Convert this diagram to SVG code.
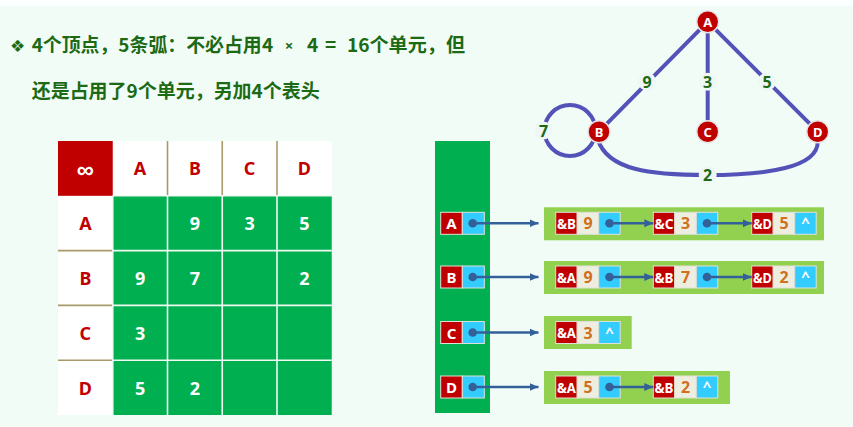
<svg xmlns="http://www.w3.org/2000/svg" width="853" height="427" viewBox="0 0 853 427">
<defs>
<marker id="arr" markerWidth="10" markerHeight="10" refX="9" refY="5" orient="auto" markerUnits="userSpaceOnUse">
<path d="M0,1 L9,5 L0,9 Z" fill="#34609a"/>
</marker>
<style>
.title{font-family:"Noto Sans CJK SC","Noto Sans",sans-serif;font-weight:bold;font-size:19px;fill:#1c6a14}
.mid{text-anchor:middle}
.hdr{font-family:"Noto Sans","Liberation Sans",sans-serif;font-weight:bold;font-size:18px;fill:#c00000;text-anchor:middle;dominant-baseline:central}
.num{font-family:"Noto Sans","Liberation Sans",sans-serif;font-weight:bold;font-size:18px;fill:#ffffff;text-anchor:middle;dominant-baseline:central}
.grid{stroke:#f2f8f2;stroke-width:1.6}
.tan{stroke:#a89a6a;stroke-width:1.6}
.edge{stroke:#5252b8;stroke-width:4;fill:none}
.gnode{fill:#c00000;stroke:#e6e6e6;stroke-width:1.5}
.gtxt{font-family:"Noto Sans","Liberation Sans",sans-serif;font-weight:bold;font-size:13px;fill:#ffffff;text-anchor:middle;dominant-baseline:central}
.lblbg{fill:#eef6f6}
.lbl{font-family:"Noto Sans","Liberation Sans",sans-serif;font-weight:bold;font-size:16px;fill:#1c6a14;text-anchor:middle;dominant-baseline:central}
.red{fill:#c00000;stroke:#e0e0d8;stroke-width:1}
.beige{fill:#eeeee0;stroke:#e0e0d8;stroke-width:1}
.blue{fill:#33ccff;stroke:#e0e0d8;stroke-width:1}
.band{fill:#92d050}
.wt{font-family:"Noto Sans","Liberation Sans",sans-serif;font-weight:bold;font-size:15px;fill:#ffffff;text-anchor:middle;dominant-baseline:central}
.amp{font-family:"Noto Sans","Liberation Sans",sans-serif;font-weight:bold;font-size:14px;fill:#ffffff;text-anchor:middle;dominant-baseline:central}
.ot{font-family:"Noto Sans","Liberation Sans",sans-serif;font-weight:bold;font-size:16px;fill:#d0701c;text-anchor:middle;dominant-baseline:central}
.ptr{stroke:#34609a;stroke-width:2.5;fill:none}
.dot{fill:#34609a}
</style>
</defs>
<rect x="0" y="0" width="853" height="427" fill="#f2fcf7"/>
<rect x="0" y="0" width="853" height="6" fill="#fbfffd"/>

<g id="title">
<text class="title" x="10" y="52" style="font-family:'DejaVu Sans',sans-serif;font-size:17px">❖</text>
<text class="title" x="31.7" y="52" textLength="230" lengthAdjust="spacingAndGlyphs">4个顶点，5条弧：不必占用</text>
<text class="title mid" x="267.5" y="52">4</text>
<text class="title mid" x="289" y="51" style="font-family:'Noto Sans',sans-serif;font-size:15px">×</text>
<text class="title mid" x="312.5" y="52">4</text>
<text class="title mid" x="330.5" y="52">=</text>
<text class="title" x="347" y="52" textLength="118" lengthAdjust="spacingAndGlyphs">16个单元，但</text>
<text class="title" x="31.7" y="98" textLength="288" lengthAdjust="spacingAndGlyphs">还是占用了9个单元，另加4个表头</text>
</g>

<g id="matrix">
<rect x="58" y="141" width="273.75" height="274" fill="#ffffff"/>
<rect x="58" y="141" width="54.75" height="54.8" fill="#c00000"/>
<rect x="112.75" y="195.8" width="219" height="219.2" fill="#00b050"/>
<g class="grid">
<line x1="167.5" y1="195.8" x2="167.5" y2="415"/>
<line x1="222.25" y1="195.8" x2="222.25" y2="415"/>
<line x1="277" y1="195.8" x2="277" y2="415"/>
<line x1="112.75" y1="250.6" x2="331.75" y2="250.6"/>
<line x1="112.75" y1="305.4" x2="331.75" y2="305.4"/>
<line x1="112.75" y1="360.2" x2="331.75" y2="360.2"/>
<line x1="112.75" y1="195.8" x2="112.75" y2="415"/>
<line x1="112.75" y1="195.8" x2="331.75" y2="195.8"/>
</g>
<g class="tan">
<line x1="167.5" y1="141" x2="167.5" y2="195"/>
<line x1="222.25" y1="141" x2="222.25" y2="195"/>
<line x1="277" y1="141" x2="277" y2="195"/>
<line x1="58" y1="250.6" x2="112" y2="250.6"/>
<line x1="58" y1="305.4" x2="112" y2="305.4"/>
<line x1="58" y1="360.2" x2="112" y2="360.2"/>
</g>
<text class="num" x="85.4" y="168.4" style="font-size:24px">∞</text>
<text class="hdr" x="140.1" y="168.4">A</text>
<text class="hdr" x="194.9" y="168.4">B</text>
<text class="hdr" x="249.6" y="168.4">C</text>
<text class="hdr" x="304.4" y="168.4">D</text>
<text class="hdr" x="85.4" y="223.2">A</text>
<text class="hdr" x="85.4" y="278">B</text>
<text class="hdr" x="85.4" y="332.8">C</text>
<text class="hdr" x="85.4" y="387.6">D</text>
<text class="num" x="194.9" y="223.2">9</text>
<text class="num" x="249.6" y="223.2">3</text>
<text class="num" x="304.4" y="223.2">5</text>
<text class="num" x="140.1" y="278">9</text>
<text class="num" x="194.9" y="278">7</text>
<text class="num" x="304.4" y="278">2</text>
<text class="num" x="140.1" y="332.8">3</text>
<text class="num" x="140.1" y="387.6">5</text>
<text class="num" x="194.9" y="387.6">2</text>
</g>

<g id="graph-edges">
<circle class="edge" cx="570" cy="130.5" r="25.5"/>
<line class="edge" x1="707.7" y1="21.7" x2="599" y2="131.7"/>
<line class="edge" x1="707.7" y1="21.7" x2="707.7" y2="131.7"/>
<line class="edge" x1="707.7" y1="21.7" x2="817.7" y2="131.7"/>
<path class="edge" d="M598,140 C608,170 650,175 707,175 C765,175 820,168 817.7,140"/>
<circle class="lblbg" cx="647" cy="81.7" r="9"/><text class="lbl" x="647" y="81.7">9</text>
<circle class="lblbg" cx="707.7" cy="81.7" r="9"/><text class="lbl" x="707.7" y="81.7">3</text>
<circle class="lblbg" cx="767" cy="81.7" r="9"/><text class="lbl" x="767" y="81.7">5</text>
<circle class="lblbg" cx="543.5" cy="130.5" r="9"/><text class="lbl" x="543.5" y="130.5">7</text>
<circle class="lblbg" cx="707.7" cy="175" r="9"/><text class="lbl" x="707.7" y="175">2</text>
</g>
<g id="vA"><circle class="gnode" cx="707.7" cy="21.7" r="11"/><text class="gtxt" x="707.7" y="21.7">A</text></g>
<g id="vB"><circle class="gnode" cx="599" cy="131.7" r="11"/><text class="gtxt" x="599" y="131.7">B</text></g>
<g id="vC"><circle class="gnode" cx="707.7" cy="131.7" r="11"/><text class="gtxt" x="707.7" y="131.7">C</text></g>
<g id="vD"><circle class="gnode" cx="817.7" cy="131.7" r="11"/><text class="gtxt" x="817.7" y="131.7">D</text></g>

<g id="headers">
<rect x="435" y="141" width="55" height="272" fill="#00b050"/>
<g id="hA"><rect class="red" x="440.7" y="212.3" width="21.6" height="22"/><rect class="blue" x="462.3" y="212.3" width="22" height="22"/><text class="wt" x="451.5" y="223.3">A</text></g>
<g id="hB"><rect class="red" x="440.7" y="266" width="21.6" height="22"/><rect class="blue" x="462.3" y="266" width="22" height="22"/><text class="wt" x="451.5" y="277">B</text></g>
<g id="hC"><rect class="red" x="440.7" y="321.5" width="21.6" height="22"/><rect class="blue" x="462.3" y="321.5" width="22" height="22"/><text class="wt" x="451.5" y="332.5">C</text></g>
<g id="hD"><rect class="red" x="440.7" y="376" width="21.6" height="22"/><rect class="blue" x="462.3" y="376" width="22" height="22"/><text class="wt" x="451.5" y="387">D</text></g>
</g>

<g id="bands">
<rect class="band" x="544" y="207.3" width="280" height="33"/>
<rect class="band" x="544" y="261" width="280" height="33"/>
<rect class="band" x="544" y="316" width="87.7" height="33"/>
<rect class="band" x="544" y="371" width="186" height="33"/>
</g>

<g id="listA">
<g id="A1"><rect class="red" x="555.7" y="212.3" width="21.5" height="22"/><rect class="beige" x="577.2" y="212.3" width="21.5" height="22"/><rect class="blue" x="598.7" y="212.3" width="21.5" height="22"/><text class="amp" x="566.5" y="223.3" textLength="19" lengthAdjust="spacingAndGlyphs">&amp;B</text><text class="ot" x="588" y="223.3">9</text></g>
<g id="A2"><rect class="red" x="653.3" y="212.3" width="21.5" height="22"/><rect class="beige" x="674.8" y="212.3" width="21.5" height="22"/><rect class="blue" x="696.3" y="212.3" width="21.5" height="22"/><text class="amp" x="664" y="223.3" textLength="19" lengthAdjust="spacingAndGlyphs">&amp;C</text><text class="ot" x="685.5" y="223.3">3</text></g>
<g id="A3"><rect class="red" x="751.7" y="212.3" width="21.5" height="22"/><rect class="beige" x="773.2" y="212.3" width="21.5" height="22"/><rect class="blue" x="794.7" y="212.3" width="21.5" height="22"/><text class="amp" x="762.5" y="223.3" textLength="19" lengthAdjust="spacingAndGlyphs">&amp;D</text><text class="ot" x="784" y="223.3">5</text><text class="wt" x="805.5" y="222.3">^</text></g>
</g>
<g id="listB">
<g id="B1"><rect class="red" x="555.7" y="266" width="21.5" height="22"/><rect class="beige" x="577.2" y="266" width="21.5" height="22"/><rect class="blue" x="598.7" y="266" width="21.5" height="22"/><text class="amp" x="566.5" y="277" textLength="19" lengthAdjust="spacingAndGlyphs">&amp;A</text><text class="ot" x="588" y="277">9</text></g>
<g id="B2"><rect class="red" x="653.3" y="266" width="21.5" height="22"/><rect class="beige" x="674.8" y="266" width="21.5" height="22"/><rect class="blue" x="696.3" y="266" width="21.5" height="22"/><text class="amp" x="664" y="277" textLength="19" lengthAdjust="spacingAndGlyphs">&amp;B</text><text class="ot" x="685.5" y="277">7</text></g>
<g id="B3"><rect class="red" x="751.7" y="266" width="21.5" height="22"/><rect class="beige" x="773.2" y="266" width="21.5" height="22"/><rect class="blue" x="794.7" y="266" width="21.5" height="22"/><text class="amp" x="762.5" y="277" textLength="19" lengthAdjust="spacingAndGlyphs">&amp;D</text><text class="ot" x="784" y="277">2</text><text class="wt" x="805.5" y="276">^</text></g>
</g>
<g id="listC">
<g id="C1"><rect class="red" x="555.7" y="321.5" width="21.5" height="22"/><rect class="beige" x="577.2" y="321.5" width="21.5" height="22"/><rect class="blue" x="598.7" y="321.5" width="21.5" height="22"/><text class="amp" x="566.5" y="332.5" textLength="19" lengthAdjust="spacingAndGlyphs">&amp;A</text><text class="ot" x="588" y="332.5">3</text><text class="wt" x="609.5" y="331.5">^</text></g>
</g>
<g id="listD">
<g id="D1"><rect class="red" x="555.7" y="376" width="21.5" height="22"/><rect class="beige" x="577.2" y="376" width="21.5" height="22"/><rect class="blue" x="598.7" y="376" width="21.5" height="22"/><text class="amp" x="566.5" y="387" textLength="19" lengthAdjust="spacingAndGlyphs">&amp;A</text><text class="ot" x="588" y="387">5</text></g>
<g id="D2"><rect class="red" x="653.3" y="376" width="21.5" height="22"/><rect class="beige" x="674.8" y="376" width="21.5" height="22"/><rect class="blue" x="696.3" y="376" width="21.5" height="22"/><text class="amp" x="664" y="387" textLength="19" lengthAdjust="spacingAndGlyphs">&amp;B</text><text class="ot" x="685.5" y="387">2</text><text class="wt" x="707" y="386">^</text></g>
</g>

<g id="connectors">
<line class="ptr" x1="472.7" y1="223.3" x2="538.5" y2="223.3" marker-end="url(#arr)"/><circle class="dot" cx="472.7" cy="223.3" r="4.3"/>
<line class="ptr" x1="472.7" y1="277" x2="538.5" y2="277" marker-end="url(#arr)"/><circle class="dot" cx="472.7" cy="277" r="4.3"/>
<line class="ptr" x1="472.7" y1="332.5" x2="538.5" y2="332.5" marker-end="url(#arr)"/><circle class="dot" cx="472.7" cy="332.5" r="4.3"/>
<line class="ptr" x1="472.7" y1="387" x2="538.5" y2="387" marker-end="url(#arr)"/><circle class="dot" cx="472.7" cy="387" r="4.3"/>
<line class="ptr" x1="609.5" y1="223.3" x2="653.3" y2="223.3" marker-end="url(#arr)"/><circle class="dot" cx="609.5" cy="223.3" r="4.3"/>
<line class="ptr" x1="707" y1="223.3" x2="751.7" y2="223.3" marker-end="url(#arr)"/><circle class="dot" cx="707" cy="223.3" r="4.3"/>
<line class="ptr" x1="609.5" y1="277" x2="653.3" y2="277" marker-end="url(#arr)"/><circle class="dot" cx="609.5" cy="277" r="4.3"/>
<line class="ptr" x1="707" y1="277" x2="751.7" y2="277" marker-end="url(#arr)"/><circle class="dot" cx="707" cy="277" r="4.3"/>
<line class="ptr" x1="609.5" y1="387" x2="653.3" y2="387" marker-end="url(#arr)"/><circle class="dot" cx="609.5" cy="387" r="4.3"/>
</g>
</svg>
